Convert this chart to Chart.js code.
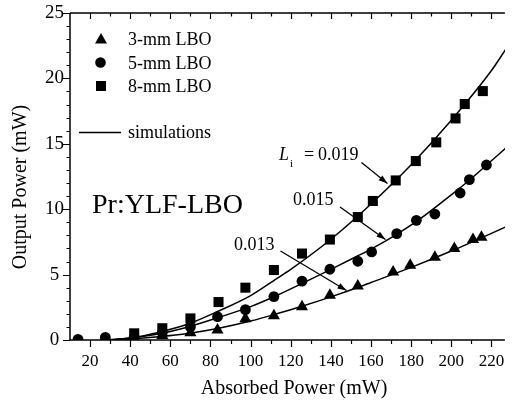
<!DOCTYPE html>
<html>
<head>
<meta charset="utf-8">
<script src="https://cdn.jsdelivr.net/npm/chart.js@4/dist/chart.umd.min.js"></script>
<style>
  html, body { margin: 0; padding: 0; background: #fff; }
  #wrap { width: 512px; height: 404px; }
</style>
</head>
<body>
<div id="wrap"><canvas id="c" width="512" height="404"></canvas></div>
<script>
// ---- data ----
const sqX = [42, 56, 70, 84, 97.4, 111.6, 125.6, 139.5, 153.4, 160.9, 172.3, 182.3, 192.5, 202.1, 206.7, 215.7];
const sqY = [0.51, 0.9, 1.65, 2.9, 4.0, 5.35, 6.61, 7.68, 9.4, 10.63, 12.2, 13.68, 15.11, 16.94, 18.04, 19.03];
const ciX = [14, 27.6, 42, 56, 70, 83.5, 97.4, 111.6, 125.6, 139.5, 153.4, 160.3, 172.8, 182.6, 191.8, 204.4, 209, 217.5];
const ciY = [0.05, 0.2, 0.25, 0.55, 1.0, 1.78, 2.32, 3.32, 4.5, 5.41, 6.02, 6.73, 8.13, 9.15, 9.63, 11.24, 12.26, 13.38];
const trX = [42, 56, 70, 83.5, 97.4, 111.6, 125.6, 139.5, 153.4, 171, 179.5, 191.8, 201.5, 210.8, 215];
const trY = [0.15, 0.35, 0.55, 0.76, 1.62, 1.86, 2.54, 3.43, 4.12, 5.2, 5.72, 6.33, 6.99, 7.68, 7.85];

const sim19X = [28, 40, 54, 68.8, 83.5, 100, 113, 120, 140, 160, 180, 200, 220, 227];
const sim19Y = [0, 0.15, 0.58, 1.22, 2.18, 3.4, 4.7, 5.4, 7.7, 10.4, 13.4, 16.8, 20.6, 22.2];
const sim15X = [28, 40, 54, 68.8, 83.5, 100, 113, 126, 140, 153, 160, 173, 183, 200, 210, 220, 227];
const sim15Y = [0, 0.15, 0.46, 1.0, 1.7, 2.55, 3.4, 4.35, 5.4, 6.4, 6.95, 8.1, 9.1, 11.1, 12.35, 13.7, 14.65];
const sim13X = [28, 40, 54, 68.8, 83.5, 100, 113, 126, 140, 153, 160, 180, 200, 220, 227];
const sim13Y = [0, 0.08, 0.25, 0.5, 0.88, 1.45, 2.0, 2.6, 3.3, 4.0, 4.4, 5.55, 6.8, 8.15, 8.64];

const xTicks = [20, 40, 60, 80, 100, 120, 140, 160, 180, 200, 220];
const yTicks = [0, 5, 10, 15, 20, 25];
const legendLabels = ['3-mm LBO', '5-mm LBO', '8-mm LBO', 'simulations'];
const xTitle = 'Absorbed Power (mW)';
const yTitle = 'Output Power (mW)';
const sampleLabel = 'Pr:YLF-LBO';
const lossLabels = ['0.019', '0.015', '0.013'];

const pts = (xs, ys) => xs.map((v, i) => ({x: v, y: ys[i]}));
const FONT = '"Liberation Serif", "Times New Roman", serif';

function marker(ctx, style, x, y) {
  ctx.beginPath();
  if (style === 'rect') {
    ctx.rect(x - 5, y - 5, 10, 10);
  } else if (style === 'circle') {
    ctx.arc(x, y, 5.3, 0, Math.PI * 2);
  } else {
    ctx.moveTo(x, y - 6); ctx.lineTo(x + 6, y + 4.5); ctx.lineTo(x - 6, y + 4.5); ctx.closePath();
  }
  ctx.fill();
}

function arrow(ctx, x1, y1, x2, y2) {
  ctx.beginPath(); ctx.moveTo(x1, y1); ctx.lineTo(x2, y2); ctx.stroke();
  const a = Math.atan2(y2 - y1, x2 - x1), L = 9, W = 3;
  ctx.beginPath();
  ctx.moveTo(x2, y2);
  ctx.lineTo(x2 - L * Math.cos(a) + W * Math.sin(a), y2 - L * Math.sin(a) - W * Math.cos(a));
  ctx.lineTo(x2 - L * Math.cos(a) - W * Math.sin(a), y2 - L * Math.sin(a) + W * Math.cos(a));
  ctx.closePath(); ctx.fill();
}

const deco = {
  id: 'deco',
  afterDraw(chart) {
    const {ctx, chartArea: a, scales: {x, y}} = chart;
    ctx.save();
    ctx.strokeStyle = '#000'; ctx.fillStyle = '#000';
    // axis lines
    ctx.lineWidth = 1.5;
    ctx.beginPath();
    ctx.moveTo(a.left, a.top); ctx.lineTo(a.right, a.top);
    ctx.moveTo(a.left, a.top); ctx.lineTo(a.left, a.bottom);
    ctx.moveTo(a.left - 0.75, a.bottom); ctx.lineTo(a.right, a.bottom);
    ctx.stroke();
    // tick marks
    ctx.lineWidth = 1.2;
    ctx.beginPath();
    for (let v = 20; v <= x.max; v += 10) {
      const px = Math.round(x.getPixelForValue(v)) + 0.5;
      const major = v % 20 === 0;
      ctx.moveTo(px, a.bottom); ctx.lineTo(px, a.bottom + (major ? 7 : 4));
      ctx.moveTo(px, a.top); ctx.lineTo(px, a.top + (major ? 6 : 3.5));
    }
    for (let v = 0; v <= y.max; v += 1) {
      const py = Math.round(y.getPixelForValue(v)) + 0.5;
      const major = v % 5 === 0;
      ctx.moveTo(a.left, py); ctx.lineTo(a.left - (major ? 7 : 3.5), py);
    }
    ctx.stroke();

    // axis titles
    ctx.font = '20px ' + FONT;
    ctx.textAlign = 'center'; ctx.textBaseline = 'middle';
    ctx.fillText(xTitle, 294, 389);
    ctx.save();
    ctx.translate(21, 187);
    ctx.rotate(-Math.PI / 2);
    ctx.fillText(yTitle, 0, 0);
    ctx.restore();

    // legend
    ctx.textAlign = 'left'; ctx.textBaseline = 'alphabetic';
    ctx.font = '18px ' + FONT;
    marker(ctx, 'triangle', 101, 39);
    marker(ctx, 'circle', 100.5, 62.5);
    marker(ctx, 'rect', 101, 86);
    ctx.fillText(legendLabels[0], 128, 45);
    ctx.fillText(legendLabels[1], 128, 68.5);
    ctx.fillText(legendLabels[2], 128, 92);
    ctx.lineWidth = 1.5;
    ctx.beginPath(); ctx.moveTo(79, 132.5); ctx.lineTo(121, 132.5); ctx.stroke();
    ctx.fillText(legendLabels[3], 128, 138);

    // sample label
    ctx.font = '28px ' + FONT;
    ctx.fillText(sampleLabel, 92, 213);

    // loss annotations
    ctx.font = 'italic 18px ' + FONT;
    ctx.fillText('L', 279, 160);
    ctx.font = '11px ' + FONT;
    ctx.fillText('i', 290, 167);
    ctx.font = '18px ' + FONT;
    ctx.fillText('=', 304, 160);
    ctx.fillText(lossLabels[0], 318, 160);
    ctx.fillText(lossLabels[1], 293, 205);
    ctx.fillText(lossLabels[2], 234, 250);
    ctx.lineWidth = 1.3;
    arrow(ctx, 361.5, 162.5, 387.5, 183.5);
    arrow(ctx, 340, 207, 385.5, 239.5);
    arrow(ctx, 280.5, 251, 346.5, 290.5);
    ctx.restore();
  }
};

const ptStyle = (style, r) => ({
  showLine: false, pointStyle: style, pointRadius: r, pointHoverRadius: r,
  pointBackgroundColor: '#000', pointBorderColor: '#000', pointBorderWidth: 0, borderColor: '#000'
});
const lineStyle = {
  showLine: true, pointRadius: 0, borderColor: '#000', borderWidth: 1.5,
  cubicInterpolationMode: 'monotone', fill: false
};

new Chart(document.getElementById('c'), {
  type: 'scatter',
  data: {
    datasets: [
      Object.assign({label: '8-mm LBO', data: pts(sqX, sqY)}, ptStyle('rect', 7.1)),
      Object.assign({label: '5-mm LBO', data: pts(ciX, ciY)}, ptStyle('circle', 5.4)),
      Object.assign({label: '3-mm LBO', data: pts(trX, trY)}, ptStyle('triangle', 7)),
      Object.assign({label: 'Li = 0.019', data: pts(sim19X, sim19Y)}, lineStyle),
      Object.assign({label: 'Li = 0.015', data: pts(sim15X, sim15Y)}, lineStyle),
      Object.assign({label: 'Li = 0.013', data: pts(sim13X, sim13Y)}, lineStyle)
    ]
  },
  options: {
    responsive: false,
    animation: false,
    devicePixelRatio: 1,
    layout: {padding: {left: 0, right: 0, top: 13, bottom: 0}},
    plugins: {legend: {display: false}, tooltip: {enabled: false}},
    scales: {
      x: {
        type: 'linear', min: 10, max: 226.7,
        grid: {display: false, drawTicks: false},
        border: {display: false},
        afterBuildTicks: s => { s.ticks = xTicks.map(v => ({value: v})); },
        afterFit: s => { s.height = 64; s.paddingLeft = 0; s.paddingRight = 0; },
        ticks: {color: '#000', font: {family: FONT, size: 17}, padding: 11, maxRotation: 0, autoSkip: false}
      },
      y: {
        type: 'linear', min: 0, max: 25,
        grid: {display: false, drawTicks: false},
        border: {display: false},
        afterBuildTicks: s => { s.ticks = yTicks.map(v => ({value: v})); },
        afterFit: s => { s.width = 70; s.paddingTop = 0; s.paddingBottom = 0; },
        ticks: {color: '#000', font: {family: FONT, size: 19}, padding: 6, crossAlign: 'center'}
      }
    }
  },
  plugins: [deco]
});
</script>
</body>
</html>
